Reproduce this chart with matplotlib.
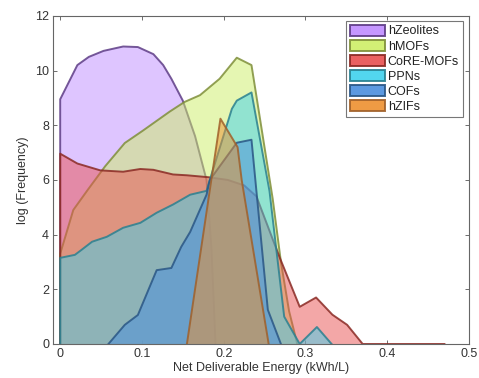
import matplotlib
matplotlib.use("Agg")
import matplotlib.pyplot as plt
from matplotlib.patches import Patch

plt.rcParams['font.family'] = ['Liberation Sans', 'DejaVu Sans']

names = ["hZeolites", "hMOFs", "CoRE-MOFs", "PPNs", "COFs", "hZIFs"]

zeo_x = [0.0, 0.0, 0.021, 0.035, 0.053, 0.077, 0.095, 0.114, 0.126, 0.136, 0.150, 0.165, 0.179, 0.185, 0.190]
zeo_y = [0.0, 8.95, 10.2, 10.5, 10.72, 10.88, 10.86, 10.6, 10.2, 9.7, 8.9, 7.6, 6.0, 3.5, 0.0]

mof_x = [0.0, 0.0, 0.016, 0.034, 0.055, 0.079, 0.101, 0.134, 0.152, 0.171, 0.195, 0.216, 0.234, 0.260, 0.270, 0.280, 0.290]
mof_y = [0.0, 3.3, 4.9, 5.65, 6.5, 7.35, 7.8, 8.5, 8.85, 9.1, 9.7, 10.47, 10.2, 5.3, 3.0, 1.2, 0.0]

core_x = [0.0, 0.0, 0.021, 0.049, 0.077, 0.098, 0.114, 0.138, 0.155, 0.181, 0.205, 0.225, 0.240, 0.268, 0.293, 0.313, 0.333, 0.351, 0.370, 0.470]
core_y = [0.0, 6.96, 6.6, 6.35, 6.3, 6.4, 6.37, 6.2, 6.17, 6.1, 6.0, 5.8, 5.4, 3.2, 1.36, 1.7, 1.07, 0.7, 0.0, 0.0]

ppn_x = [0.0, 0.0, 0.018, 0.026, 0.039, 0.057, 0.077, 0.098, 0.118, 0.138, 0.159, 0.179, 0.183, 0.210, 0.216, 0.234, 0.256, 0.274, 0.293, 0.314, 0.332]
ppn_y = [0.0, 3.15, 3.26, 3.44, 3.74, 3.92, 4.25, 4.43, 4.8, 5.1, 5.46, 5.6, 6.0, 8.6, 8.9, 9.2, 5.6, 1.0, 0.0, 0.62, 0.0]

cof_x = [0.059, 0.079, 0.095, 0.118, 0.136, 0.148, 0.159, 0.179, 0.183, 0.216, 0.234, 0.254, 0.270]
cof_y = [0.0, 0.7, 1.06, 2.7, 2.78, 3.55, 4.1, 5.46, 6.0, 7.36, 7.47, 1.25, 0.0]

zif_x = [0.155, 0.196, 0.217, 0.222, 0.255]
zif_y = [0.0, 8.24, 7.2, 6.0, 0.0]

series = [(zeo_x, zeo_y), (mof_x, mof_y), (core_x, core_y),
          (ppn_x, ppn_y), (cof_x, cof_y), (zif_x, zif_y)]
faces = ["#BF8CFF", "#CDEE66", "#E85050", "#3FD2EE", "#4A8EDD", "#EE9030"]
edges = ["#5E3D86", "#7F8F3A", "#8A2A24", "#2A8090", "#2A5685", "#A0602A"]

fig = plt.figure(figsize=(4.79, 3.78), dpi=100)
ax = fig.add_axes([0.111, 0.09, 0.868, 0.868])

for i, ((x, y), fc, ec) in enumerate(zip(series, faces, edges)):
    ax.fill(x, y, facecolor=fc, alpha=0.5, edgecolor='none', zorder=2 + 2 * i)
    ax.plot(x, y, color=ec, lw=1.4, alpha=0.85, zorder=3 + 2 * i)

ax.set_xlim(-0.0086, 0.5)
ax.set_ylim(0, 12)
ax.set_xticks([0, 0.1, 0.2, 0.3, 0.4, 0.5])
ax.set_xticklabels(["0", "0.1", "0.2", "0.3", "0.4", "0.5"])
ax.set_yticks([0, 2, 4, 6, 8, 10, 12])
ax.tick_params(direction='in', top=True, right=True, labelsize=9,
               length=3, width=0.6, color='#555555', labelcolor='#333333', pad=3)
for s in ax.spines.values():
    s.set_color('#666666')
    s.set_linewidth(0.8)
    s.set_zorder(20)
ax.set_xlabel("Net Deliverable Energy (kWh/L)", fontsize=9, color='#333333', labelpad=1)
ax.set_ylabel("log (Frequency)", fontsize=9, color='#333333', labelpad=4)

handles = [Patch(facecolor=fc, edgecolor=ec, alpha=0.9, lw=1.4) for fc, ec in zip(faces, edges)]
leg = ax.legend(handles, names, loc='upper right', fontsize=9, frameon=True,
                fancybox=False, handlelength=2.8, handleheight=1.0,
                handletextpad=0.25, labelspacing=0.18, borderpad=0.3,
                bbox_to_anchor=(0.985, 0.985), borderaxespad=0)
leg.get_frame().set_edgecolor('#555555')
leg.get_frame().set_linewidth(0.8)
leg.set_zorder(30)
for t in leg.get_texts():
    t.set_color('#222222')

fig.savefig("out.png", dpi=100)
